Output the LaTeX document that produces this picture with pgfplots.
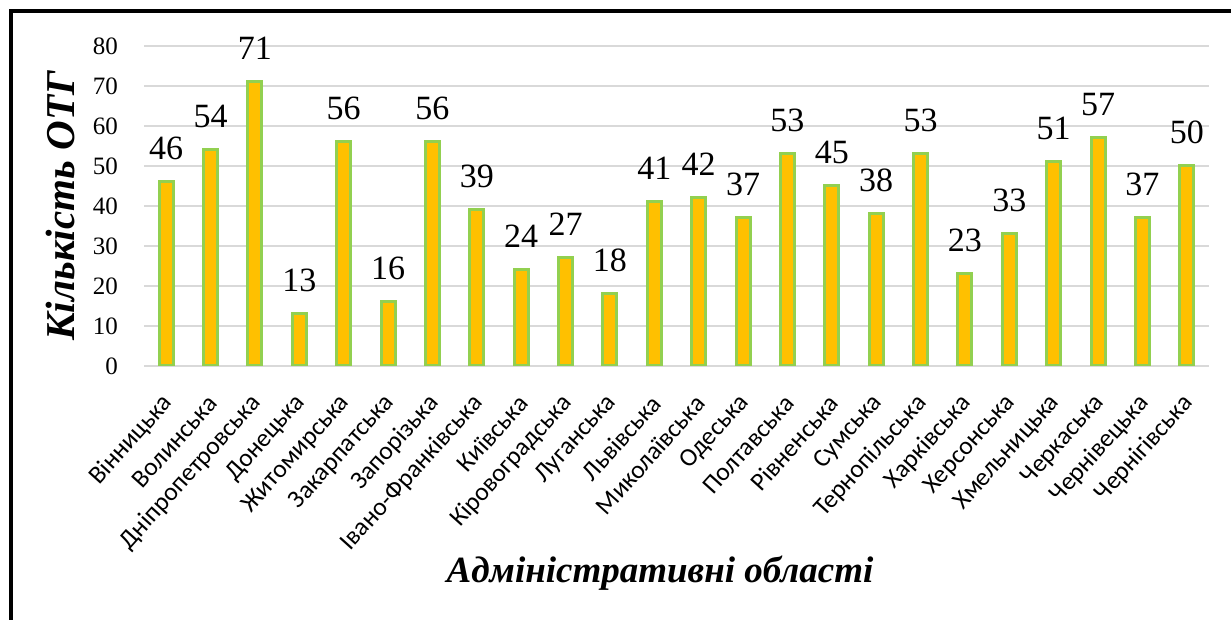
\documentclass[border=0pt]{standalone}
\usepackage{fontspec}
\setmainfont{Liberation Serif}
\newfontfamily\calib{Carlito}
\usepackage{pgfplots}
\pgfplotsset{compat=1.18}
\definecolor{barfill}{HTML}{FFC000}
\definecolor{barline}{HTML}{92D050}
\definecolor{gridgray}{HTML}{D9D9D9}
\begin{document}
\begin{tikzpicture}[x=1pt,y=1pt]
\useasboundingbox (0,0) rectangle (1231,620);
\draw[black, line width=3.3pt] (11,-20) -- (11,609) -- (1260,609);
\begin{axis}[
  at={(144pt,254pt)}, anchor=south west,
  scale only axis, width=1065pt, height=320pt,
  xmin=-0.5, xmax=23.5, ymin=0, ymax=80,
  ytick={0,10,...,80},
  xtick={0,...,23},
  xticklabels={Вінницька,Волинська,Дніпропетровська,Донецька,Житомирська,Закарпатська,Запорізька,Івано-Франківська,Київська,Кіровоградська,Луганська,Львівська,Миколаївська,Одеська,Полтавська,Рівненська,Сумська,Тернопільська,Харківська,Херсонська,Хмельницька,Черкаська,Чернівецька,Чернігівська},
  axis line style={draw=none},
  major tick length=0pt,
  ymajorgrids, grid style={gridgray, line width=2pt},
  /pgf/number format/assume math mode=true,
  yticklabel style={font=\fontsize{25}{25}\selectfont, anchor=east, inner sep=0pt, xshift=-26pt},
  xticklabel style={font=\calib\fontsize{25.5}{25.5}\selectfont, xshift=2pt, yshift=-33pt, rotate=48, anchor=east, inner sep=0pt},
  ybar, bar width=14pt,
  nodes near coords,
  every node near coord/.append style={font=\fontsize{34}{34}\selectfont, anchor=south, inner sep=0pt, yshift=21pt, black},
  xlabel={\bfseries\itshape Адміністративні області},
  xlabel style={font=\fontsize{37}{37}\selectfont, at={(axis description cs:0.4845,-0.678)}, anchor=base},
  ylabel={\bfseries\itshape Кількість ОТГ},
  ylabel style={font=\fontsize{41}{41}\selectfont, at={(axis description cs:-0.0648,0.5)}, anchor=base, rotate=0},
]
\addplot[fill=barfill, draw=barline, line width=3pt] coordinates {
(0,46) (1,54) (2,71) (3,13) (4,56) (5,16) (6,56) (7,39) (8,24) (9,27) (10,18) (11,41)
(12,42) (13,37) (14,53) (15,45) (16,38) (17,53) (18,23) (19,33) (20,51) (21,57) (22,37) (23,50)};
\end{axis}
\end{tikzpicture}
\end{document}
